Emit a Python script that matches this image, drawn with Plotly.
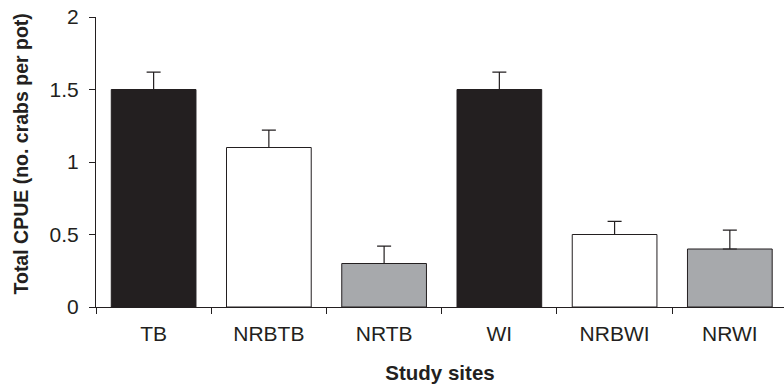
import plotly.graph_objects as go

sites = ["TB", "NRBTB", "NRTB", "WI", "NRBWI", "NRWI"]
cpue = [1.5, 1.1, 0.3, 1.5, 0.5, 0.4]
se = [0.12, 0.12, 0.12, 0.12, 0.09, 0.13]
colors = ["#231f20", "#ffffff", "#a7a9ac", "#231f20", "#ffffff", "#a7a9ac"]
y_ticks = [0, 0.5, 1, 1.5, 2]
y_ticktext = ["0", "0.5", "1", "1.5", "2"]

ink = "#231f20"
font = "Liberation Sans, Arial, Helvetica, sans-serif"

fig = go.Figure()
fig.add_trace(go.Bar(
    x=sites, y=cpue, width=0.735,
    marker=dict(color=colors, line=dict(color=ink, width=1)),
    error_y=dict(type="data", array=se, arrayminus=[0]*len(se), symmetric=False,
                 color=ink, thickness=1.2, width=7),
    showlegend=False,
))

fig.update_layout(
    width=784, height=384,
    margin=dict(l=96, r=0, t=17, b=77),
    paper_bgcolor="white", plot_bgcolor="white",
    font=dict(family=font, size=20, color=ink),
    xaxis=dict(
        range=[-0.5, 5.47], showline=True, linecolor=ink, linewidth=1,
        ticks="outside", tickson="boundaries", ticklen=6, tickcolor=ink, tickwidth=1,
        showgrid=False, zeroline=False,
        tickfont=dict(size=21), ticklabelstandoff=8,
        title=dict(text="<b>Study sites</b>", font=dict(size=20.5), standoff=21),
    ),
    yaxis=dict(
        range=[0, 2], tickvals=y_ticks, ticktext=y_ticktext,
        showline=True, linecolor=ink, linewidth=1,
        ticks="outside", ticklen=6, tickcolor=ink, tickwidth=1,
        showgrid=False, zeroline=False,
        tickfont=dict(size=21), ticklabelstandoff=6,
    ),
    annotations=[dict(
        text="<b>Total CPUE (no. crabs per pot)</b>", textangle=-90,
        xref="paper", yref="paper", x=-96/688 + 20.5/688, y=(307-154)/290,
        xanchor="center", yanchor="middle", showarrow=False,
        font=dict(size=19.5, color=ink, family=font),
    )],
    bargap=0.265,
)

fig.write_html("out.html")
